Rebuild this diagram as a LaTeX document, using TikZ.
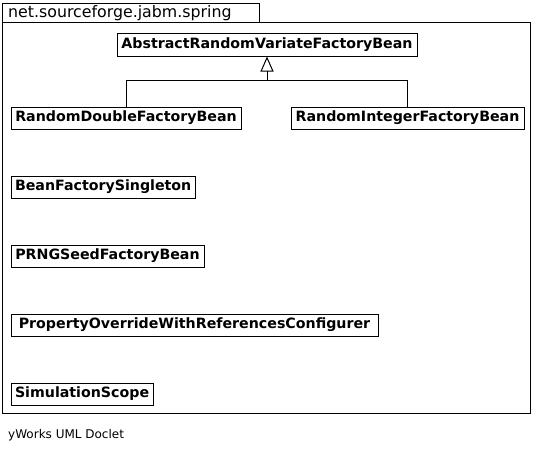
\documentclass[tikz,border=0pt]{standalone}
\usepackage{fontspec}
\setmainfont{DejaVu Sans}
\usetikzlibrary{arrows.meta}
\tikzset{
  cls/.style={draw,line width=1pt,anchor=north west,font=\bfseries\fontsize{14.2}{16}\selectfont,inner xsep=4pt,minimum height=22pt,inner ysep=0pt},
  inherit/.style={line width=1pt,-{Triangle[open,length=15pt,width=13pt]}}
}

\begin{document}
\begin{tikzpicture}[x=1pt,y=-1pt]
  \useasboundingbox (0,0) rectangle (534,452);
  % package frame
  \draw[line width=1pt] (2.5,22.5) rectangle (530.5,413.5);
  \draw[line width=1pt] (2.5,22.5) rectangle (259.5,3.5);
  \node[anchor=west,font=\fontsize{15.8}{18}\selectfont,inner sep=0pt] (pkg) at (8,13) {net.sourceforge.jabm.spring};
  % classes
  \node[cls,minimum width=300pt] (abs) at (116.5,33.5) {AbstractRandomVariateFactoryBean};
  \node[cls,minimum width=230pt] (dbl) at (10.5,106.5) {RandomDoubleFactoryBean};
  \node[cls,minimum width=233pt] (int) at (290.5,106.5) {RandomIntegerFactoryBean};
  \node[cls,minimum width=184pt] (bfs) at (10.5,175.5) {BeanFactorySingleton};
  \node[cls,minimum width=193pt] (prng) at (10.5,244.5) {PRNGSeedFactoryBean};
  \node[cls,minimum width=367pt] (pow) at (10.5,313.5) {PropertyOverrideWithReferencesConfigurer};
  \node[cls,minimum width=142pt] (sim) at (10.5,382.5) {SimulationScope};
  % generalisation
  \coordinate (join) at (abs.south |- 0,80.5);
  \draw[line width=1pt] (dbl.north) |- (join);
  \draw[line width=1pt] (int.north) |- (join);
  \draw[inherit] (join) -- (abs.south);
  % footer
  \node[anchor=west,font=\fontsize{12}{14}\selectfont,inner sep=0pt] (foot) at (8,435) {yWorks UML Doclet};
\end{tikzpicture}
\end{document}
